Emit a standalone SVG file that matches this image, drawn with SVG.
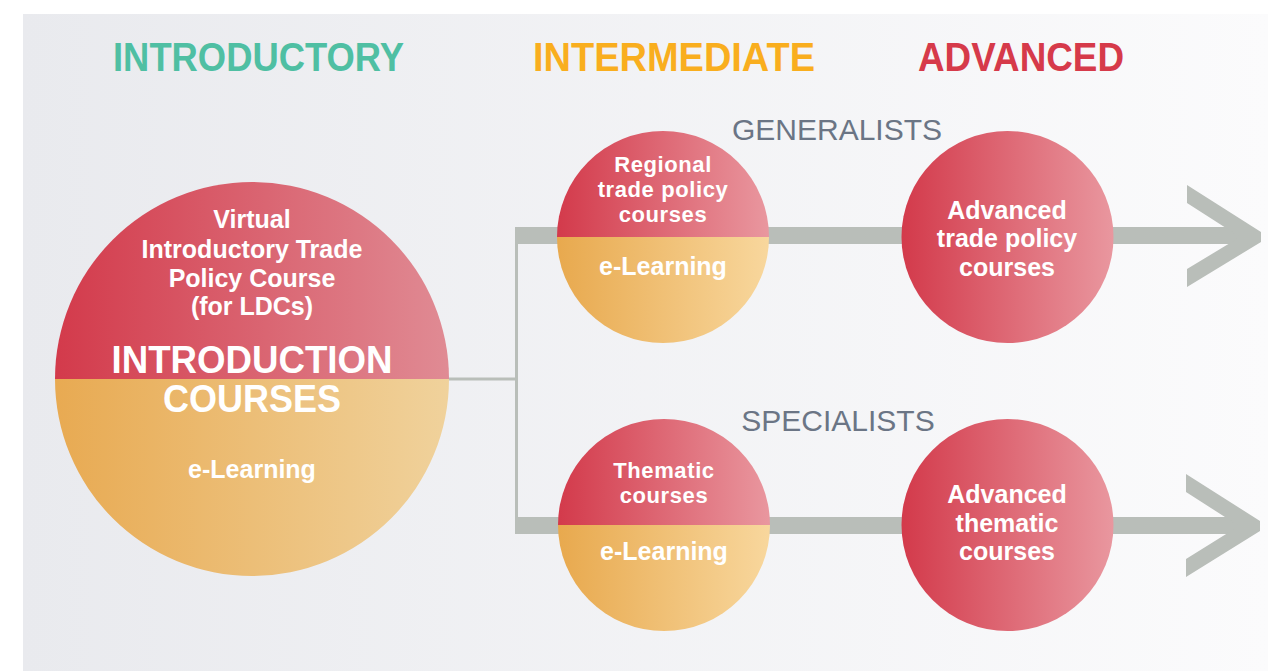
<svg xmlns="http://www.w3.org/2000/svg" width="1268" height="671" viewBox="0 0 1268 671">
<defs>
<linearGradient id="bg" x1="0" y1="0" x2="1" y2="0"><stop offset="0" stop-color="#e9eaee"/><stop offset="1" stop-color="#fbfbfc"/></linearGradient>
<linearGradient id="red" x1="0" y1="0" x2="1" y2="0"><stop offset="0" stop-color="#d33a4b"/><stop offset="1" stop-color="#e9979f"/></linearGradient>
<linearGradient id="redBig" x1="0" y1="0" x2="1" y2="0"><stop offset="0" stop-color="#d33a4b"/><stop offset="1" stop-color="#e08b94"/></linearGradient>
<linearGradient id="orange" x1="0" y1="0" x2="1" y2="0"><stop offset="0" stop-color="#e8a94e"/><stop offset="1" stop-color="#f8d79d"/></linearGradient>
<linearGradient id="orangeBig" x1="0" y1="0" x2="1" y2="0"><stop offset="0" stop-color="#e8aa52"/><stop offset="1" stop-color="#f0d29c"/></linearGradient>
<style>
.t{font-family:"Liberation Sans",Arial,sans-serif;font-weight:bold;fill:#ffffff;text-anchor:middle}
.s{font-size:22px;letter-spacing:0.6px}
.h{font-family:"Liberation Sans",Arial,sans-serif;font-weight:bold;font-size:40px}
.g{font-family:"Liberation Sans",Arial,sans-serif;font-size:30px;fill:#6b7585;text-anchor:middle}
.bar{fill:#b9beb9}
.thin{stroke:#b9beb9;stroke-width:3;fill:none}
</style>
</defs>
<rect x="0" y="0" width="1268" height="671" fill="#ffffff"/>
<rect x="23" y="14" width="1245" height="657" fill="url(#bg)"/>

<g id="titles">
<text class="h" x="113" y="71" fill="#4fbfa3" textLength="291" lengthAdjust="spacingAndGlyphs">INTRODUCTORY</text>
<text class="h" x="533" y="71" fill="#f9ae1e" textLength="282" lengthAdjust="spacingAndGlyphs">INTERMEDIATE</text>
<text class="h" x="918" y="71" fill="#d63a4a" textLength="206" lengthAdjust="spacingAndGlyphs">ADVANCED</text>
<text class="g" x="837" y="140">GENERALISTS</text>
<text class="g" x="838" y="431">SPECIALISTS</text>
</g>

<g id="connectors">
<line class="thin" x1="448" y1="379" x2="517" y2="379"/>
<line class="thin" x1="516.5" y1="227" x2="516.5" y2="534"/>
<rect class="bar" x="515" y="227" width="725" height="17"/>
<polygon class="bar" points="1187,185 1261,232 1261,242 1187,287 1187,269 1240,237 1187,203"/>
<rect class="bar" x="515" y="517" width="725" height="17"/>
<polygon class="bar" points="1186,474 1260,521 1260,531 1186,577 1186,559 1239,526 1186,492"/>
</g>

<g id="introduction">
<path d="M55,379 A197,197 0 0 1 449,379 Z" fill="url(#redBig)"/>
<path d="M55,379 A197,197 0 0 0 449,379 Z" fill="url(#orangeBig)"/>
<text class="t" font-size="25"><tspan x="252" y="228">Virtual</tspan><tspan x="252" y="258">Introductory Trade</tspan><tspan x="252" y="287">Policy Course</tspan><tspan x="252" y="315">(for LDCs)</tspan></text>
<text class="t" font-size="38" x="252" y="373" textLength="281" lengthAdjust="spacingAndGlyphs">INTRODUCTION</text>
<text class="t" font-size="38" x="252" y="412" textLength="178" lengthAdjust="spacingAndGlyphs">COURSES</text>
<text class="t" font-size="25" x="252" y="478">e-Learning</text>
</g>

<g id="regional">
<path d="M557,237 A106,106 0 0 1 769,237 Z" fill="url(#red)"/>
<path d="M557,237 A106,106 0 0 0 769,237 Z" fill="url(#orange)"/>
<text class="t s"><tspan x="663" y="172">Regional</tspan><tspan x="663" y="197">trade policy</tspan><tspan x="663" y="222">courses</tspan></text>
<text class="t" font-size="25" x="663" y="275">e-Learning</text>
</g>

<g id="thematic">
<path d="M558,525 A106,106 0 0 1 770,525 Z" fill="url(#red)"/>
<path d="M558,525 A106,106 0 0 0 770,525 Z" fill="url(#orange)"/>
<text class="t s"><tspan x="664" y="478">Thematic</tspan><tspan x="664" y="503">courses</tspan></text>
<text class="t" font-size="25" x="664" y="560">e-Learning</text>
</g>

<g id="advanced-trade">
<circle cx="1007.5" cy="237" r="106" fill="url(#red)"/>
<text class="t" font-size="25"><tspan x="1007" y="219">Advanced</tspan><tspan x="1007" y="247">trade policy</tspan><tspan x="1007" y="276">courses</tspan></text>
</g>

<g id="advanced-thematic">
<circle cx="1007.5" cy="525" r="106" fill="url(#red)"/>
<text class="t" font-size="25"><tspan x="1007" y="503">Advanced</tspan><tspan x="1007" y="532">thematic</tspan><tspan x="1007" y="560">courses</tspan></text>
</g>
</svg>
